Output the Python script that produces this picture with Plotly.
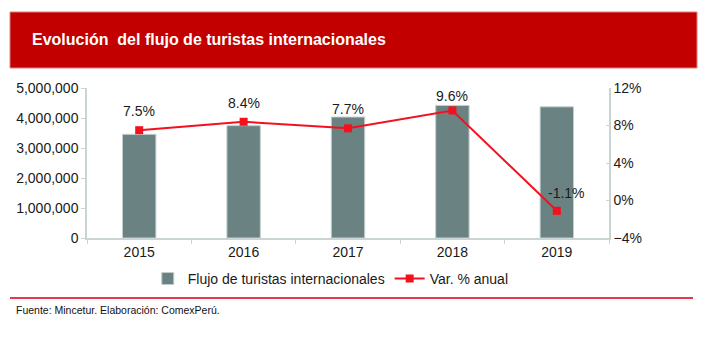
import plotly.graph_objects as go

# Arrivals of international tourists and year-on-year change
years = ["2015", "2016", "2017", "2018", "2019"]
tourists = [3455709, 3744461, 4032339, 4419430, 4371787]
change_pct = [7.5, 8.4, 7.7, 9.6, -1.1]
change_labels = ["7.5%", "8.4%", "7.7%", "9.6%", "-1.1%"]

BAR = "#6b8282"
RED = "#f5101e"
AXIS = "#c9d5d2"
FONT = "Liberation Sans, Arial, sans-serif"

fig = go.Figure()

fig.add_trace(go.Bar(
    x=years, y=tourists, name="Flujo de turistas internacionales",
    marker=dict(color=BAR, line=dict(color="#c3cfcf", width=1)),
    width=0.32, yaxis="y",
))

fig.add_trace(go.Scatter(
    x=years, y=change_pct, name="Var. % anual", yaxis="y2",
    mode="lines+markers",
    line=dict(color=RED, width=2),
    marker=dict(symbol="square", size=8, color=RED),
))

# value labels above the line markers (positioned by category index)
xshifts = [0, 0, 0, 0, 10]
yshifts = [19, 19, 19, 15, 18]
for i, (v, lab, dx, dy) in enumerate(zip(change_pct, change_labels, xshifts, yshifts)):
    fig.add_annotation(x=i, y=v, xref="x", yref="y2", text=lab, showarrow=False,
                       xshift=dx, yshift=dy, font=dict(size=14, color="#1a1a1a"))

# header band with title
fig.add_shape(type="rect", xref="paper", yref="paper",
              x0=-0.1475, x1=1.1686, y0=1.1333, y1=1.5067,
              fillcolor="#c30000", line=dict(color="#e08080", width=1), layer="below")
fig.add_annotation(xref="paper", yref="paper", x=-0.1092, y=1.32, xanchor="left",
                   yanchor="middle", showarrow=False,
                   text="<b>Evolución  del flujo de turistas internacionales</b>",
                   font=dict(size=16, color="white"))

# footer rule and source note
fig.add_shape(type="line", xref="paper", yref="paper",
              x0=-0.1475, x1=1.161, y0=-0.4, y1=-0.4,
              line=dict(color="#e8364e", width=2))
fig.add_annotation(xref="paper", yref="paper", x=-0.14, y=-0.48, xanchor="left",
                   yanchor="middle", showarrow=False,
                   text="Fuente: Mincetur. Elaboración: ComexPerú.",
                   font=dict(size=10.5, color="#111111"))

fig.update_layout(
    width=712, height=338,
    margin=dict(l=87, r=103, t=88, b=100),
    paper_bgcolor="white", plot_bgcolor="white",
    font=dict(family=FONT, size=14, color="#1a1a1a"),
    showlegend=True,
    legend=dict(orientation="h", x=0.467, xanchor="center", y=-0.273, yanchor="middle",
                font=dict(size=14), itemwidth=30, tracegroupgap=0),
    xaxis=dict(type="category", range=[-0.5, len(years) - 0.5],
               showline=True, linecolor=AXIS, linewidth=1.5,
               ticks="outside", tickson="boundaries", ticklen=4, tickcolor=AXIS,
               showgrid=False, tickfont=dict(size=14)),
    yaxis=dict(range=[0, 5000000], dtick=1000000, tickformat=",", showgrid=False,
               showline=True, linecolor=AXIS, linewidth=1.5, ticks="outside",
               ticklen=4, tickcolor=AXIS, zeroline=False, tickfont=dict(size=14)),
    yaxis2=dict(range=[-4, 12], dtick=4, ticksuffix="%", overlaying="y", side="right",
                showgrid=False, showline=True, linecolor=AXIS, linewidth=1.5,
                ticks="inside", ticklen=3, tickcolor=AXIS, zeroline=False,
                tickfont=dict(size=14)),
    bargap=0.68,
)

fig.write_html("out.html")
